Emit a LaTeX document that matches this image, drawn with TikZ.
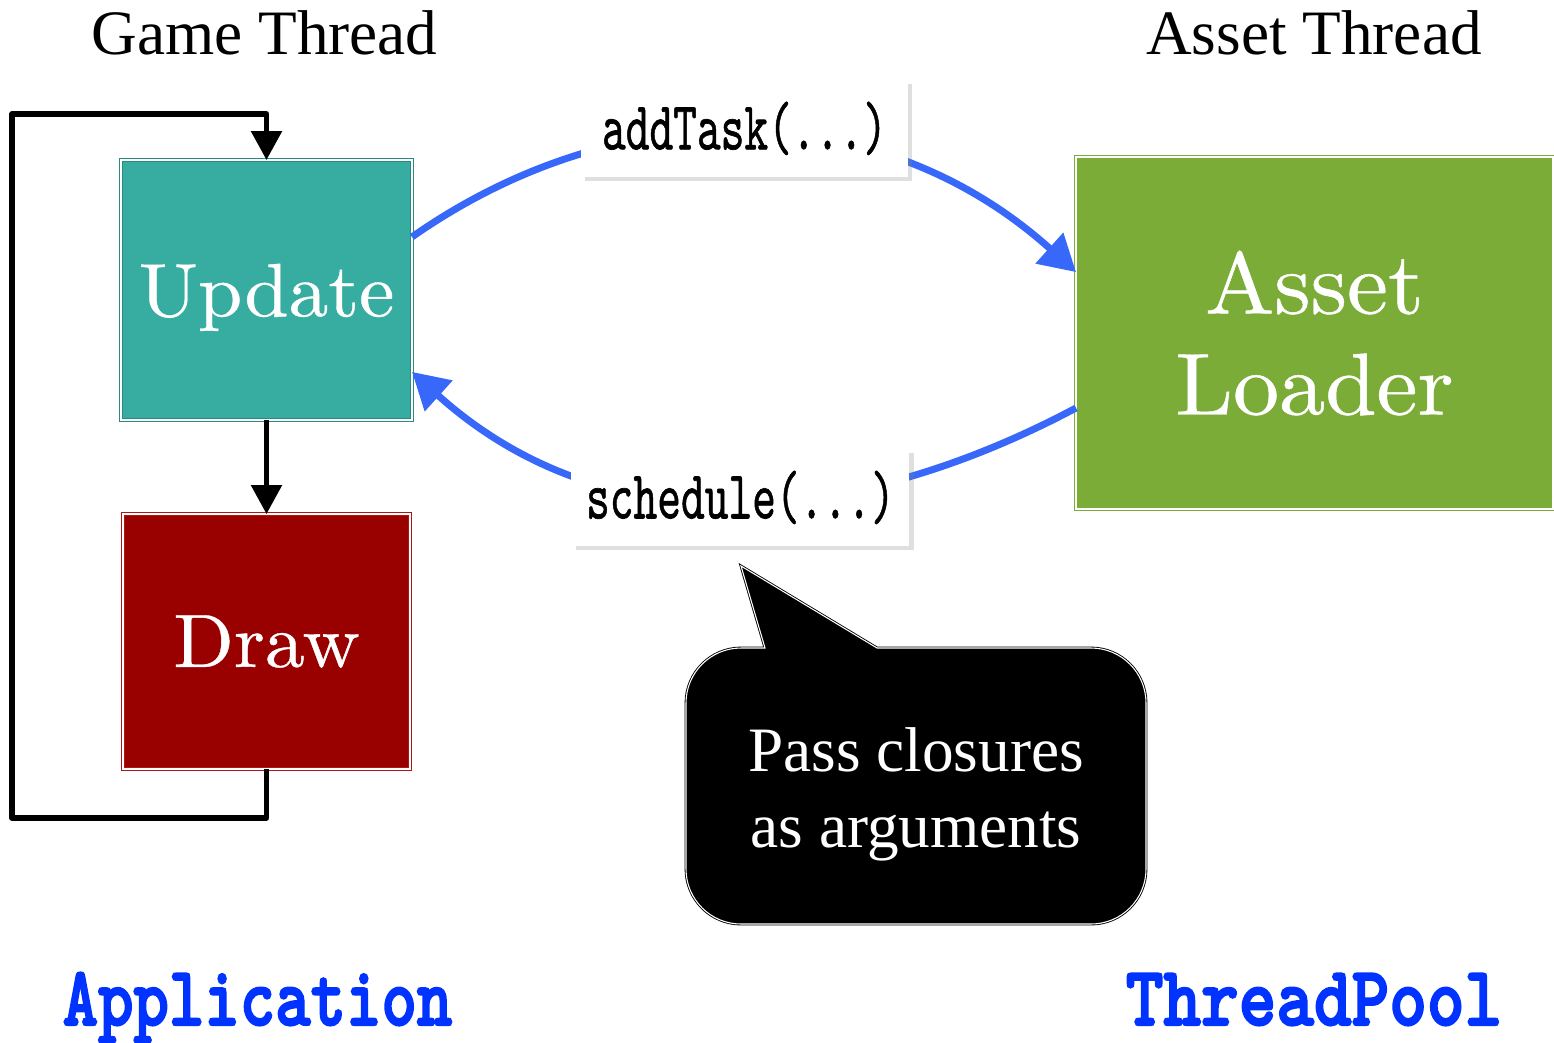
\documentclass[tikz,border=0pt]{standalone}
\usepackage{fontspec}
\usepackage{graphicx}
\usetikzlibrary{arrows.meta,calc,shadows}
\newfontfamily\headfont{Liberation Serif}
\newfontfamily\boxfont{lmroman10-regular.otf}[FakeBold=0.5]
\newfontfamily\codefont{lmmono10-regular.otf}[FakeBold=1]
\newfontfamily\poolfont{lmmonolt10-bold.otf}[FakeBold=2.5]
\newcommand{\wide}[1]{\scalebox{1.05}[1]{#1}}

\definecolor{updfill}{HTML}{37ACA0}
\definecolor{updline}{HTML}{2A8A7F}
\definecolor{drwfill}{HTML}{990000}
\definecolor{drwline}{HTML}{B01515}
\definecolor{astfill}{HTML}{7BAC37}
\definecolor{astline}{HTML}{7BAC37}
\definecolor{flowblue}{HTML}{3868FA}
\definecolor{poolblue}{HTML}{0033FF}

\begin{document}
\begin{tikzpicture}[x=0.02cm, y=-0.02cm,
  block/.style={draw, double=white, double distance=0.8pt, line width=0.6pt,
    inner sep=0pt, outer sep=0pt, text=white, font=\boxfont\fontsize{43}{43}\selectfont},
  headtext/.style={font=\headfont\fontsize{36}{36}\selectfont, inner sep=0pt},
  pooltext/.style={font=\poolfont\fontsize{48}{48}\selectfont, text=poolblue, inner sep=0pt},
  callbox/.style={fill=white, inner sep=0pt, minimum height=1.94cm,
    font=\codefont\fontsize{39}{39}\selectfont,
    drop shadow={shadow xshift=2.5pt, shadow yshift=-2.5pt, opacity=0.25}},
  loopline/.style={line width=0.11cm, line join=round,
    -{Triangle[length=0.58cm,width=0.6cm]}},
  flowarrow/.style={draw=flowblue, line width=0.14cm,
    -{Triangle[length=0.72cm,width=0.8cm]}},
  bubble/.style={fill=black, draw=black, double=white, double distance=0.6pt, line width=0.5pt}
]
\useasboundingbox (0,0) rectangle (1554,1042);

% thread headings
\node[headtext, anchor=base] (hdrGame) at (264.5,54) {Game Thread};
\node[headtext, anchor=base] (hdrAsset) at (1314,54) {Asset Thread};

% game loop blocks
\node[block, fill=updfill, draw=updline, minimum width=5.82cm, minimum height=5.2cm,
  text depth=0pt] (upd) at (266.5,290) {\wide{Update}};
\node[block, fill=drwfill, draw=drwline, minimum width=5.74cm, minimum height=5.1cm]
  (drw) at (266.5,641.5) {\wide{Draw}};

% loader block
\node[block, fill=astfill, draw=astline, minimum width=9.54cm, minimum height=7.04cm,
  align=center, font=\boxfont\fontsize{50}{57.5}\selectfont] (asset) at (1314.5,333)
  {\wide{Asset}\\\wide{Loader}};

% game loop connectors
\coordinate (lpBL) at (12,818);
\coordinate (lpTL) at (12,114);
\draw[loopline] (upd.south) -- (drw.north);
\draw[loopline] (drw.south) |- (lpBL) -- (lpTL) -| (upd.north);

% cross-thread calls
\draw[flowarrow] ($(upd.north east)!0.296!(upd.south east)$)
  to[out=35, in=138]
  node[callbox, minimum width=6.54cm, xshift=-0.14cm, yshift=0.1cm] (addTask)
    {\scalebox{0.66}[1]{addTask(...)}}
  ($(asset.north west)!0.327!(asset.south west)$);
\draw[flowarrow] ($(asset.north west)!0.713!(asset.south west)$)
  to[out=208, in=-42]
  node[callbox, minimum width=6.76cm, xshift=0.2cm, yshift=0.07cm] (sched)
    {\scalebox{0.66}[1]{schedule(...)}}
  ($(upd.north east)!0.815!(upd.south east)$);

% speech bubble
\draw[bubble] (765,648) -- (741,566) -- (877,648) -- (1091,648)
  arc[start angle=270, end angle=360, radius=55] -- (1146,869)
  arc[start angle=0, end angle=90, radius=55] -- (741,924)
  arc[start angle=90, end angle=180, radius=55] -- (686,703)
  arc[start angle=180, end angle=270, radius=55] -- cycle;
\node[font=\headfont\fontsize{36}{43.3}\selectfont, text=white, align=center, inner sep=0pt]
  (note) at (916,794) {Pass closures\\as arguments};

% bottom captions
\node[pooltext, anchor=base] (app) at (257.5,1025) {\scalebox{0.8}[1]{Application}};
\node[pooltext, anchor=base] (pool) at (1314,1025) {\scalebox{0.85}[1]{ThreadPool}};
\end{tikzpicture}
\end{document}
